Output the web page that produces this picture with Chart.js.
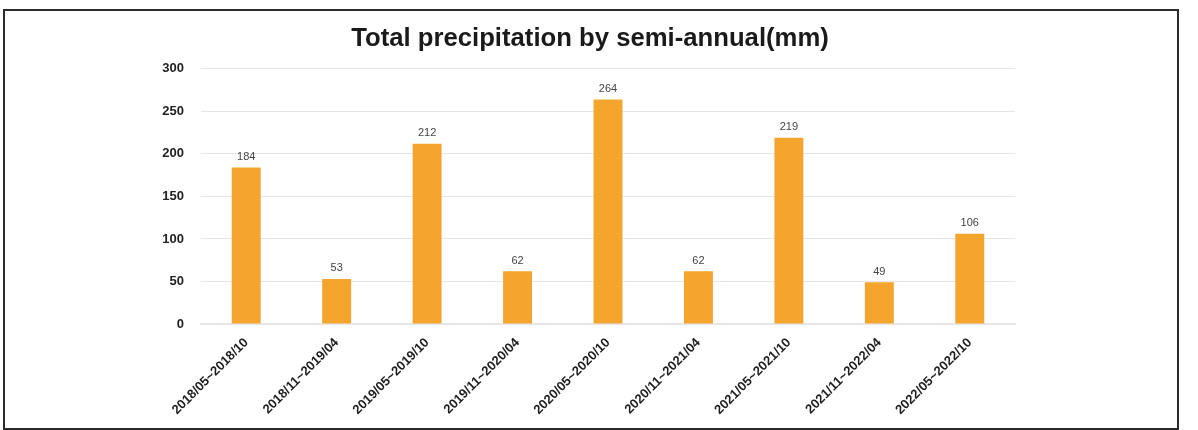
<!DOCTYPE html>
<html lang="en">
<head>
    <meta charset="UTF-8">
    <title>Total precipitation by semi-annual(mm)</title>
    <script src="https://cdn.jsdelivr.net/npm/chart.js"></script>
    <style>
        html, body { margin: 0; padding: 0; background: #fff; }
        #wrap { position: relative; width: 1198px; height: 430px; }
        #frame {
            position: absolute; left: 3px; top: 9px; width: 1172px; height: 417px;
            border: 2px solid #2b2b2b; pointer-events: none;
        }
        canvas { position: absolute; left: 0; top: 0; }
    </style>
</head>
<body>
    <div id="wrap">
        <canvas id="chart" width="1198" height="430"></canvas>
        <div id="frame"></div>
    </div>

    <script>
        // data
        const periods = ['2018/05~2018/10', '2018/11~2019/04', '2019/05~2019/10', '2019/11~2020/04',
            '2020/05~2020/10', '2020/11~2021/04', '2021/05~2021/10', '2021/11~2022/04', '2022/05~2022/10'];
        const rainfall = [184, 53, 212, 62, 264, 62, 219, 49, 106];
        const yTicks = [0, 50, 100, 150, 200, 250, 300];

        const FONT = '"Liberation Sans", Arial, sans-serif';

        // small plugin: value labels above bars (no datalabels plugin offline)
        const barValues = {
            id: 'barValues',
            afterDatasetsDraw(chart) {
                const ctx = chart.ctx;
                ctx.save();
                ctx.font = '11px ' + FONT;
                ctx.fillStyle = '#444';
                ctx.textAlign = 'center';
                ctx.textBaseline = 'bottom';
                chart.getDatasetMeta(0).data.forEach((bar, i) => {
                    ctx.fillText(rainfall[i], bar.x, bar.y - 5);
                });
                ctx.restore();
            }
        };

        new Chart(document.getElementById('chart'), {
            type: 'bar',
            data: {
                labels: periods,
                datasets: [{
                    data: rainfall,
                    backgroundColor: '#F4A52E',
                    borderWidth: 0,
                    categoryPercentage: 1,
                    barPercentage: 0.32
                }]
            },
            options: {
                responsive: false,
                animation: false,
                layout: { padding: { left: 0, right: 18, top: 8, bottom: 10 } },
                plugins: {
                    legend: { display: false },
                    tooltip: { enabled: false },
                    title: {
                        display: true,
                        text: 'Total precipitation by semi-annual(mm)',
                        color: '#1a1a1a',
                        font: { family: FONT, size: 25.7, weight: 'bold' },
                        padding: { top: 15, bottom: 15 }
                    }
                },
                scales: {
                    y: {
                        min: 0,
                        max: 300,
                        afterBuildTicks: s => { s.ticks = yTicks.map(v => ({ value: v })); },
                        afterFit: s => { s.width = 201; },
                        border: { display: false },
                        grid: { color: '#e6e6e6', lineWidth: 1, drawTicks: false },
                        ticks: {
                            padding: 17,
                            color: '#222',
                            font: { family: FONT, size: 13, weight: 'bold' }
                        }
                    },
                    // empty right-side spacer so the title centres like the original
                    spacer: {
                        position: 'right',
                        min: 0,
                        max: 1,
                        afterFit: s => { s.width = 165; },
                        border: { display: false },
                        grid: { display: false },
                        ticks: { display: false }
                    },
                    x: {
                        afterFit: s => { s.height = 96; },
                        border: { color: '#e6e6e6', width: 2 },
                        grid: { display: false },
                        ticks: {
                            minRotation: 45,
                            maxRotation: 45,
                            autoSkip: false,
                            padding: 3,
                            color: '#1e1e1e',
                            font: { family: FONT, size: 13, weight: 'bold' }
                        }
                    }
                }
            },
            plugins: [barValues]
        });
    </script>
</body>
</html>
